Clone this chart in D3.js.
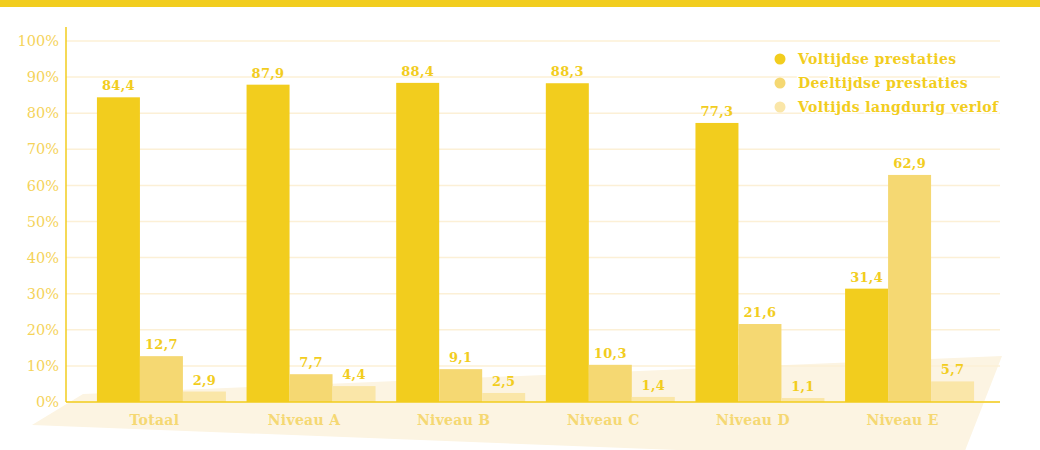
<!DOCTYPE html>
<html>
<head>
<meta charset="utf-8">
<script src="https://cdn.jsdelivr.net/npm/d3@7"></script>
<style>
  body { margin: 0; background: #fff; }
  svg { display: block; }
</style>
</head>
<body>
<svg id="chart"></svg>
<script>
// chart data
var categories = ["Totaal", "Niveau A", "Niveau B", "Niveau C", "Niveau D", "Niveau E"];
var seriesNames = ["Voltijdse prestaties", "Deeltijdse prestaties", "Voltijds langdurig verlof"];
var voltijds = [84.4, 87.9, 88.4, 88.3, 77.3, 31.4];
var deeltijds = [12.7, 7.7, 9.1, 10.3, 21.6, 62.9];
var verlof = [2.9, 4.4, 2.5, 1.4, 1.1, 5.7];
var yTicks = [0, 10, 20, 30, 40, 50, 60, 70, 80, 90, 100];

var seriesValues = [voltijds, deeltijds, verlof];
var colors = ["#f2cd1e", "#f5d872", "#fae6a8"];

var width = 1040, height = 450;
// plot edges (note: "top" is reserved on window, so use plot* names)
var plotLeft = 66, plotRight = 1000, plotTop = 41, plotBottom = 402;

var svg = d3.select("#chart")
    .attr("width", width)
    .attr("height", height);

// top band
svg.append("rect")
    .attr("x", 0).attr("y", 0)
    .attr("width", width).attr("height", 7)
    .attr("fill", "#f2cd1e");

// decorative floor
svg.append("polygon")
    .attr("points", [[32, 425], [83, 394], [1002, 356], [961, 461]].map(function(p) { return p.join(","); }).join(" "))
    .attr("fill", "#fcf4e2");

// bar groups sit a bit right of the plot edge
var x0 = d3.scaleBand()
    .domain(categories)
    .range([plotLeft + 1, plotRight + 4])
    .paddingInner(0.138)
    .paddingOuter(0.2);

var x1 = d3.scaleBand()
    .domain(d3.range(seriesNames.length))
    .range([0, x0.bandwidth()]);

var y = d3.scaleLinear()
    .domain([0, 100])
    .range([plotBottom, plotTop]);

// gridlines
svg.append("g")
  .selectAll("line")
  .data(yTicks)
  .enter().append("line")
    .attr("x1", plotLeft).attr("x2", plotRight)
    .attr("y1", function(d) { return y(d); })
    .attr("y2", function(d) { return y(d); })
    .attr("stroke", "#fcf0d6")
    .attr("stroke-width", 1.5);

// y axis
var yAxis = svg.append("g")
    .attr("transform", "translate(" + plotLeft + ",0)")
    .call(d3.axisLeft(y).tickValues(yTicks).tickSize(0).tickPadding(7)
      .tickFormat(function(d) { return d + "%"; }));
yAxis.select(".domain").remove();
yAxis.selectAll("text")
    .attr("fill", "#f5d35a")
    .style("font-family", "'DejaVu Serif', serif")
    .style("font-size", "14.5px");

svg.append("line")
    .attr("x1", plotLeft).attr("x2", plotLeft)
    .attr("y1", 27).attr("y2", plotBottom)
    .attr("stroke", "#f2cd1e")
    .attr("stroke-width", 1.5);

// bars
var groups = svg.append("g")
  .selectAll("g")
  .data(categories)
  .enter().append("g")
    .attr("transform", function(d) { return "translate(" + x0(d) + ",0)"; });

groups.selectAll("rect")
  .data(function(d, i) { return seriesValues.map(function(s, k) { return {k: k, v: s[i]}; }); })
  .enter().append("rect")
    .attr("x", function(d) { return x1(d.k); })
    .attr("y", function(d) { return y(d.v); })
    .attr("width", x1.bandwidth())
    .attr("height", function(d) { return plotBottom - y(d.v); })
    .attr("fill", function(d) { return colors[d.k]; });

groups.selectAll("text")
  .data(function(d, i) { return seriesValues.map(function(s, k) { return {k: k, v: s[i]}; }); })
  .enter().append("text")
    .attr("x", function(d) { return x1(d.k) + x1.bandwidth() / 2; })
    .attr("y", function(d) { return y(d.v) - 7; })
    .attr("text-anchor", "middle")
    .attr("fill", "#f2cd1e")
    .style("font-family", "'DejaVu Serif', serif")
    .style("font-weight", "bold")
    .style("font-size", "13px")
    .style("letter-spacing", "0.3px")
    .text(function(d) { return d.v.toFixed(1).replace(".", ","); });

// x axis line
svg.append("line")
    .attr("x1", plotLeft).attr("x2", plotRight)
    .attr("y1", plotBottom).attr("y2", plotBottom)
    .attr("stroke", "#f2cd1e")
    .attr("stroke-width", 1.5);

// category labels
svg.append("g")
  .selectAll("text")
  .data(categories)
  .enter().append("text")
    .attr("x", function(d) { return x0(d) + x0.bandwidth() / 2 - 7; })
    .attr("y", 425)
    .attr("text-anchor", "middle")
    .attr("fill", "#f5d873")
    .style("font-family", "'DejaVu Serif', serif")
    .style("font-weight", "bold")
    .style("font-size", "14px")
    .style("letter-spacing", "0.3px")
    .text(function(d) { return d; });

// legend
var legend = svg.append("g")
    .attr("transform", "translate(780,59)");

var items = legend.selectAll("g")
  .data(seriesNames)
  .enter().append("g")
    .attr("transform", function(d, i) { return "translate(0," + (i * 24) + ")"; });

items.append("circle")
    .attr("r", 5.5)
    .attr("fill", function(d, i) { return colors[i]; });

items.append("text")
    .attr("x", 18)
    .attr("y", 5)
    .attr("fill", "#f2cd1e")
    .attr("stroke", "#fff")
    .attr("stroke-width", 3)
    .attr("paint-order", "stroke")
    .style("font-family", "'DejaVu Serif', serif")
    .style("font-weight", "bold")
    .style("font-size", "14px")
    .style("letter-spacing", "0.4px")
    .text(function(d) { return d; });
</script>
</body>
</html>
